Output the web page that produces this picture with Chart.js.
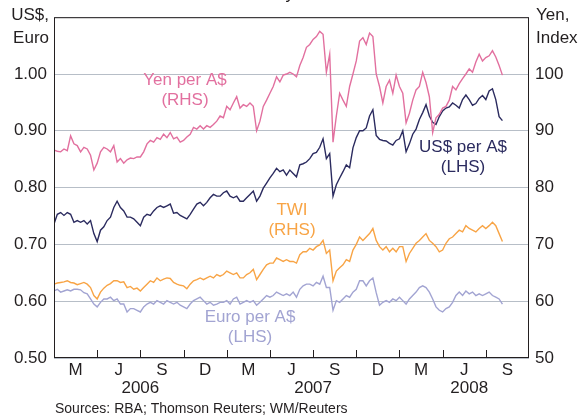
<!DOCTYPE html>
<html>
<head>
<meta charset="utf-8">
<script src="https://cdn.jsdelivr.net/npm/chart.js@4"></script>
<style>
  html, body { margin: 0; padding: 0; background: #fff; }
  canvas { display: block; }
</style>
</head>
<body>
<canvas id="fxChart" width="582" height="419"></canvas>
<script>
// Weekly readings, Jan 2006 - mid Aug 2008 (x = week number)
const yenPerAud = [
  86.6, 86.4, 86.3, 86.8, 86.5, 89.1, 87.7, 87.4, 86.3, 87.1,
  86.8, 85.7, 83.1, 84.3, 86.3, 87.1, 86.8, 86.3, 87.4, 84.5,
  85.1, 84.3, 84.9, 85.2, 85.1, 85.4, 85.4, 86.3, 87.7, 88.3,
  88.0, 88.8, 88.5, 89.4, 88.8, 89.7, 88.6, 88.9, 88.0, 88.3,
  88.9, 89.4, 90.6, 90.3, 90.9, 90.3, 90.9, 90.6, 91.1, 91.7,
  92.6, 92.3, 94.3, 93.7, 94.9, 96.0, 94.0, 94.6, 94.3, 94.9,
  94.3, 90.0, 91.7, 94.3, 95.4, 96.6, 97.8, 99.5, 98.6, 99.8,
  100.0, 100.3, 100.0, 99.5, 101.5, 102.9, 104.7, 105.2, 106.1, 106.6,
  107.5, 107.0, 100.3, 103.5, 88.0, 92.6, 96.6, 95.4, 94.3, 97.8,
  100.0, 102.3, 105.8, 106.4, 105.2, 107.2, 106.6, 100.0, 97.8, 94.9,
  97.8, 98.9, 96.6, 99.8, 97.8, 96.6, 91.4, 93.1, 95.4, 97.2,
  97.8, 100.3, 98.5, 96.0, 89.7, 92.3, 92.9, 94.0, 94.3, 95.4,
  97.8, 97.2, 98.3, 99.2, 100.0, 100.9, 100.3, 102.1, 103.5, 102.3,
  102.9, 103.2, 104.1, 103.0, 101.5, 99.8
];

const usdPerAud = [
  0.736, 0.753, 0.756, 0.751, 0.756, 0.753, 0.739, 0.742, 0.739, 0.742,
  0.736, 0.742, 0.719, 0.705, 0.725, 0.731, 0.742, 0.748, 0.765, 0.776,
  0.765, 0.759, 0.748, 0.748, 0.745, 0.739, 0.733, 0.748, 0.753, 0.751,
  0.759, 0.765, 0.768, 0.765, 0.768, 0.771, 0.755, 0.756, 0.751, 0.748,
  0.745, 0.753, 0.762, 0.771, 0.774, 0.768, 0.774, 0.782, 0.788, 0.785,
  0.785, 0.791, 0.794, 0.785, 0.782, 0.785, 0.776, 0.776, 0.782, 0.788,
  0.794, 0.776, 0.785, 0.799, 0.808, 0.817, 0.825, 0.834, 0.828, 0.831,
  0.822, 0.831, 0.825, 0.819, 0.840, 0.842, 0.845, 0.851, 0.860, 0.862,
  0.871, 0.886, 0.851, 0.860, 0.785, 0.805, 0.817, 0.828, 0.840, 0.835,
  0.870, 0.888, 0.900, 0.900, 0.905, 0.926, 0.937, 0.892, 0.885, 0.883,
  0.882, 0.878, 0.875, 0.883, 0.886, 0.900, 0.863, 0.877, 0.894, 0.903,
  0.920, 0.932, 0.946, 0.926, 0.915, 0.911, 0.925, 0.935, 0.940, 0.942,
  0.949, 0.945, 0.940, 0.955, 0.963, 0.955, 0.945, 0.948, 0.957, 0.962,
  0.955, 0.970, 0.974, 0.955, 0.925, 0.918
];

const twiIndex = [
  63.0, 63.2, 63.3, 63.4, 63.6, 63.3, 63.2, 62.9, 63.1, 63.3,
  63.0, 62.4, 61.0, 60.4, 61.6, 62.3, 62.8, 63.1, 63.6, 63.6,
  63.3, 63.4, 62.4, 62.6, 62.1, 62.3, 61.8, 62.4, 63.0, 63.6,
  63.3, 64.1, 63.6, 63.9, 64.1, 64.0, 63.3, 63.0, 62.8, 62.7,
  62.2, 63.0, 63.6, 63.8, 64.1, 63.8, 64.1, 64.4, 64.1, 64.7,
  64.4, 64.7, 65.3, 65.0, 64.7, 65.0, 64.1, 64.1, 64.7, 65.0,
  65.6, 63.8, 64.7, 65.6, 66.4, 66.7, 66.7, 67.6, 67.3, 67.0,
  67.3, 67.0, 67.0, 66.7, 68.2, 68.7, 68.7, 69.3, 69.0, 69.6,
  69.9, 70.7, 68.4, 69.0, 63.6, 65.3, 65.9, 66.4, 67.3, 67.0,
  69.0, 70.0, 71.3, 70.7, 71.3, 71.9, 72.8, 70.7, 69.6, 69.0,
  69.6, 68.7, 69.3, 68.7, 69.6, 69.6, 67.0, 68.4, 69.3, 70.2,
  70.7, 71.3, 71.9, 70.7, 70.2, 69.6, 68.7, 69.0, 70.2, 71.0,
  71.3, 71.9, 72.5, 72.2, 73.3, 72.8, 72.5, 72.2, 72.8, 73.3,
  72.8, 73.3, 73.9, 73.3, 71.9, 70.5
];

const euroPerAud = [
  0.618, 0.621, 0.616, 0.618, 0.620, 0.618, 0.621, 0.621, 0.620, 0.615,
  0.613, 0.604, 0.595, 0.590, 0.598, 0.604, 0.604, 0.607, 0.601, 0.604,
  0.595, 0.595, 0.581, 0.587, 0.587, 0.584, 0.581, 0.590, 0.595, 0.598,
  0.595, 0.601, 0.598, 0.595, 0.601, 0.598, 0.595, 0.598, 0.593, 0.590,
  0.587, 0.595, 0.601, 0.604, 0.607, 0.601, 0.595, 0.598, 0.593, 0.595,
  0.598, 0.598, 0.601, 0.595, 0.604, 0.607, 0.595, 0.598, 0.601, 0.598,
  0.601, 0.593, 0.598, 0.604, 0.610, 0.607, 0.610, 0.616, 0.613, 0.610,
  0.613, 0.610, 0.616, 0.607, 0.621, 0.627, 0.630, 0.630, 0.627, 0.633,
  0.630, 0.644, 0.624, 0.624, 0.584, 0.601, 0.598, 0.604, 0.610, 0.607,
  0.616, 0.621, 0.636, 0.636, 0.627, 0.636, 0.641, 0.615, 0.593, 0.598,
  0.601, 0.598, 0.604, 0.601, 0.607, 0.601, 0.595, 0.604, 0.610, 0.616,
  0.624, 0.627, 0.624, 0.616, 0.604, 0.590, 0.584, 0.581, 0.587, 0.590,
  0.598, 0.610, 0.616, 0.610, 0.618, 0.613, 0.616, 0.610, 0.613, 0.610,
  0.613, 0.616, 0.610, 0.607, 0.604, 0.595
];

// quarter boundaries in weeks, quarter labels, years
const quarterEnds = [13, 26, 39, 52, 65, 78, 91, 104, 117, 130];
const quarterLabels = ["M", "J", "S", "D", "M", "J", "S", "D", "M", "J", "S"];
const yearLabels = ["2006", "2007", "2008"];
const yearCentres = [26, 78, 125];

const FONT = "'Liberation Sans', Arial, sans-serif";
const INK = "#231f20";
const GRID = "#b7bec7";

function toPoints(arr) {
  return arr.map((v, i) => ({ x: i, y: v }));
}

const frameAndText = {
  id: "frameAndText",
  afterDraw(chart) {
    const ctx = chart.ctx;
    const a = chart.chartArea;
    const xs = chart.scales.x;
    ctx.save();

    // frame
    ctx.strokeStyle = INK;
    ctx.lineWidth = 1;
    ctx.strokeRect(a.left + 0.5, a.top + 0.5, a.right - a.left - 1, a.bottom - a.top - 1);

    // quarter ticks (inside)
    ctx.beginPath();
    quarterEnds.forEach(q => {
      const px = Math.round(xs.getPixelForValue(q)) + 0.5;
      ctx.moveTo(px, a.bottom - 1);
      ctx.lineTo(px, a.bottom - 8);
    });
    ctx.stroke();

    ctx.fillStyle = INK;
    ctx.font = "17px " + FONT;
    ctx.textAlign = "center";
    ctx.textBaseline = "middle";
    quarterLabels.forEach((lab, i) => {
      ctx.fillText(lab, xs.getPixelForValue(i * 13 + 6.5), a.bottom + 12);
    });
    yearLabels.forEach((lab, i) => {
      ctx.fillText(lab, xs.getPixelForValue(yearCentres[i]), a.bottom + 30);
    });

    // axis titles
    ctx.textAlign = "right";
    ctx.fillText("US$,", 49, 15);
    ctx.fillText("Euro", 49, 38);
    ctx.textAlign = "left";
    ctx.fillText("Yen,", 536, 15);
    ctx.fillText("Index", 536, 38);

    // chopped title above
    ctx.textAlign = "right";
    ctx.textBaseline = "alphabetic";
    ctx.fillText("Daily", 294, -1);

    // source
    ctx.font = "14px " + FONT;
    ctx.textAlign = "left";
    ctx.textBaseline = "middle";
    ctx.fillText("Sources: RBA; Thomson Reuters; WM/Reuters", 55, 409);

    // series labels
    ctx.font = "17px " + FONT;
    ctx.textAlign = "center";
    const notes = [
      ["Yen per A$", "(RHS)", "#e2709f", 185, 80],
      ["US$ per A$", "(LHS)", "#2b2b5f", 463, 147],
      ["TWI", "(RHS)", "#f8a445", 292, 210],
      ["Euro per A$", "(LHS)", "#a2a4d2", 250, 317]
    ];
    notes.forEach(n => {
      ctx.fillStyle = n[2];
      ctx.fillText(n[0], n[3], n[4]);
      ctx.fillText(n[1], n[3], n[4] + 20);
    });
    ctx.restore();
  }
};

new Chart(document.getElementById("fxChart"), {
  type: "line",
  data: {
    datasets: [
      { label: "Yen per A$", data: toPoints(yenPerAud), yAxisID: "yR", borderColor: "#e2709f" },
      { label: "TWI", data: toPoints(twiIndex), yAxisID: "yR", borderColor: "#f8a445" },
      { label: "Euro per A$", data: toPoints(euroPerAud), yAxisID: "yL", borderColor: "#a2a4d2" },
      { label: "US$ per A$", data: toPoints(usdPerAud), yAxisID: "yL", borderColor: "#2b2b5f" }
    ]
  },
  options: {
    responsive: false,
    animation: false,
    devicePixelRatio: 1,
    layout: { padding: { top: 8, bottom: 61, left: 0, right: 0 } },
    elements: {
      point: { radius: 0 },
      line: { borderWidth: 1.4, tension: 0 }
    },
    plugins: { legend: { display: false }, tooltip: { enabled: false } },
    scales: {
      x: { type: "linear", min: 0, max: 143, display: false },
      yL: {
        position: "left",
        min: 0.5,
        max: 1.1,
        afterFit(s) { s.width = 54; },
        border: { display: false },
        grid: {
          color: GRID,
          drawTicks: false,
          tickLength: 0
        },
        ticks: {
          stepSize: 0.1,
          padding: 7,
          color: INK,
          font: { family: FONT, size: 17 },
          callback: v => (v > 1.05 ? "" : Number(v).toFixed(2))
        }
      },
      yR: {
        position: "right",
        min: 50,
        max: 110,
        afterFit(s) { s.width = 53; },
        border: { display: false },
        grid: { display: false, drawTicks: false, tickLength: 0 },
        ticks: {
          stepSize: 10,
          padding: 6,
          color: INK,
          font: { family: FONT, size: 17 },
          callback: v => (v > 105 ? "" : String(Math.round(v)))
        }
      }
    }
  },
  plugins: [frameAndText]
});
</script>
</body>
</html>
